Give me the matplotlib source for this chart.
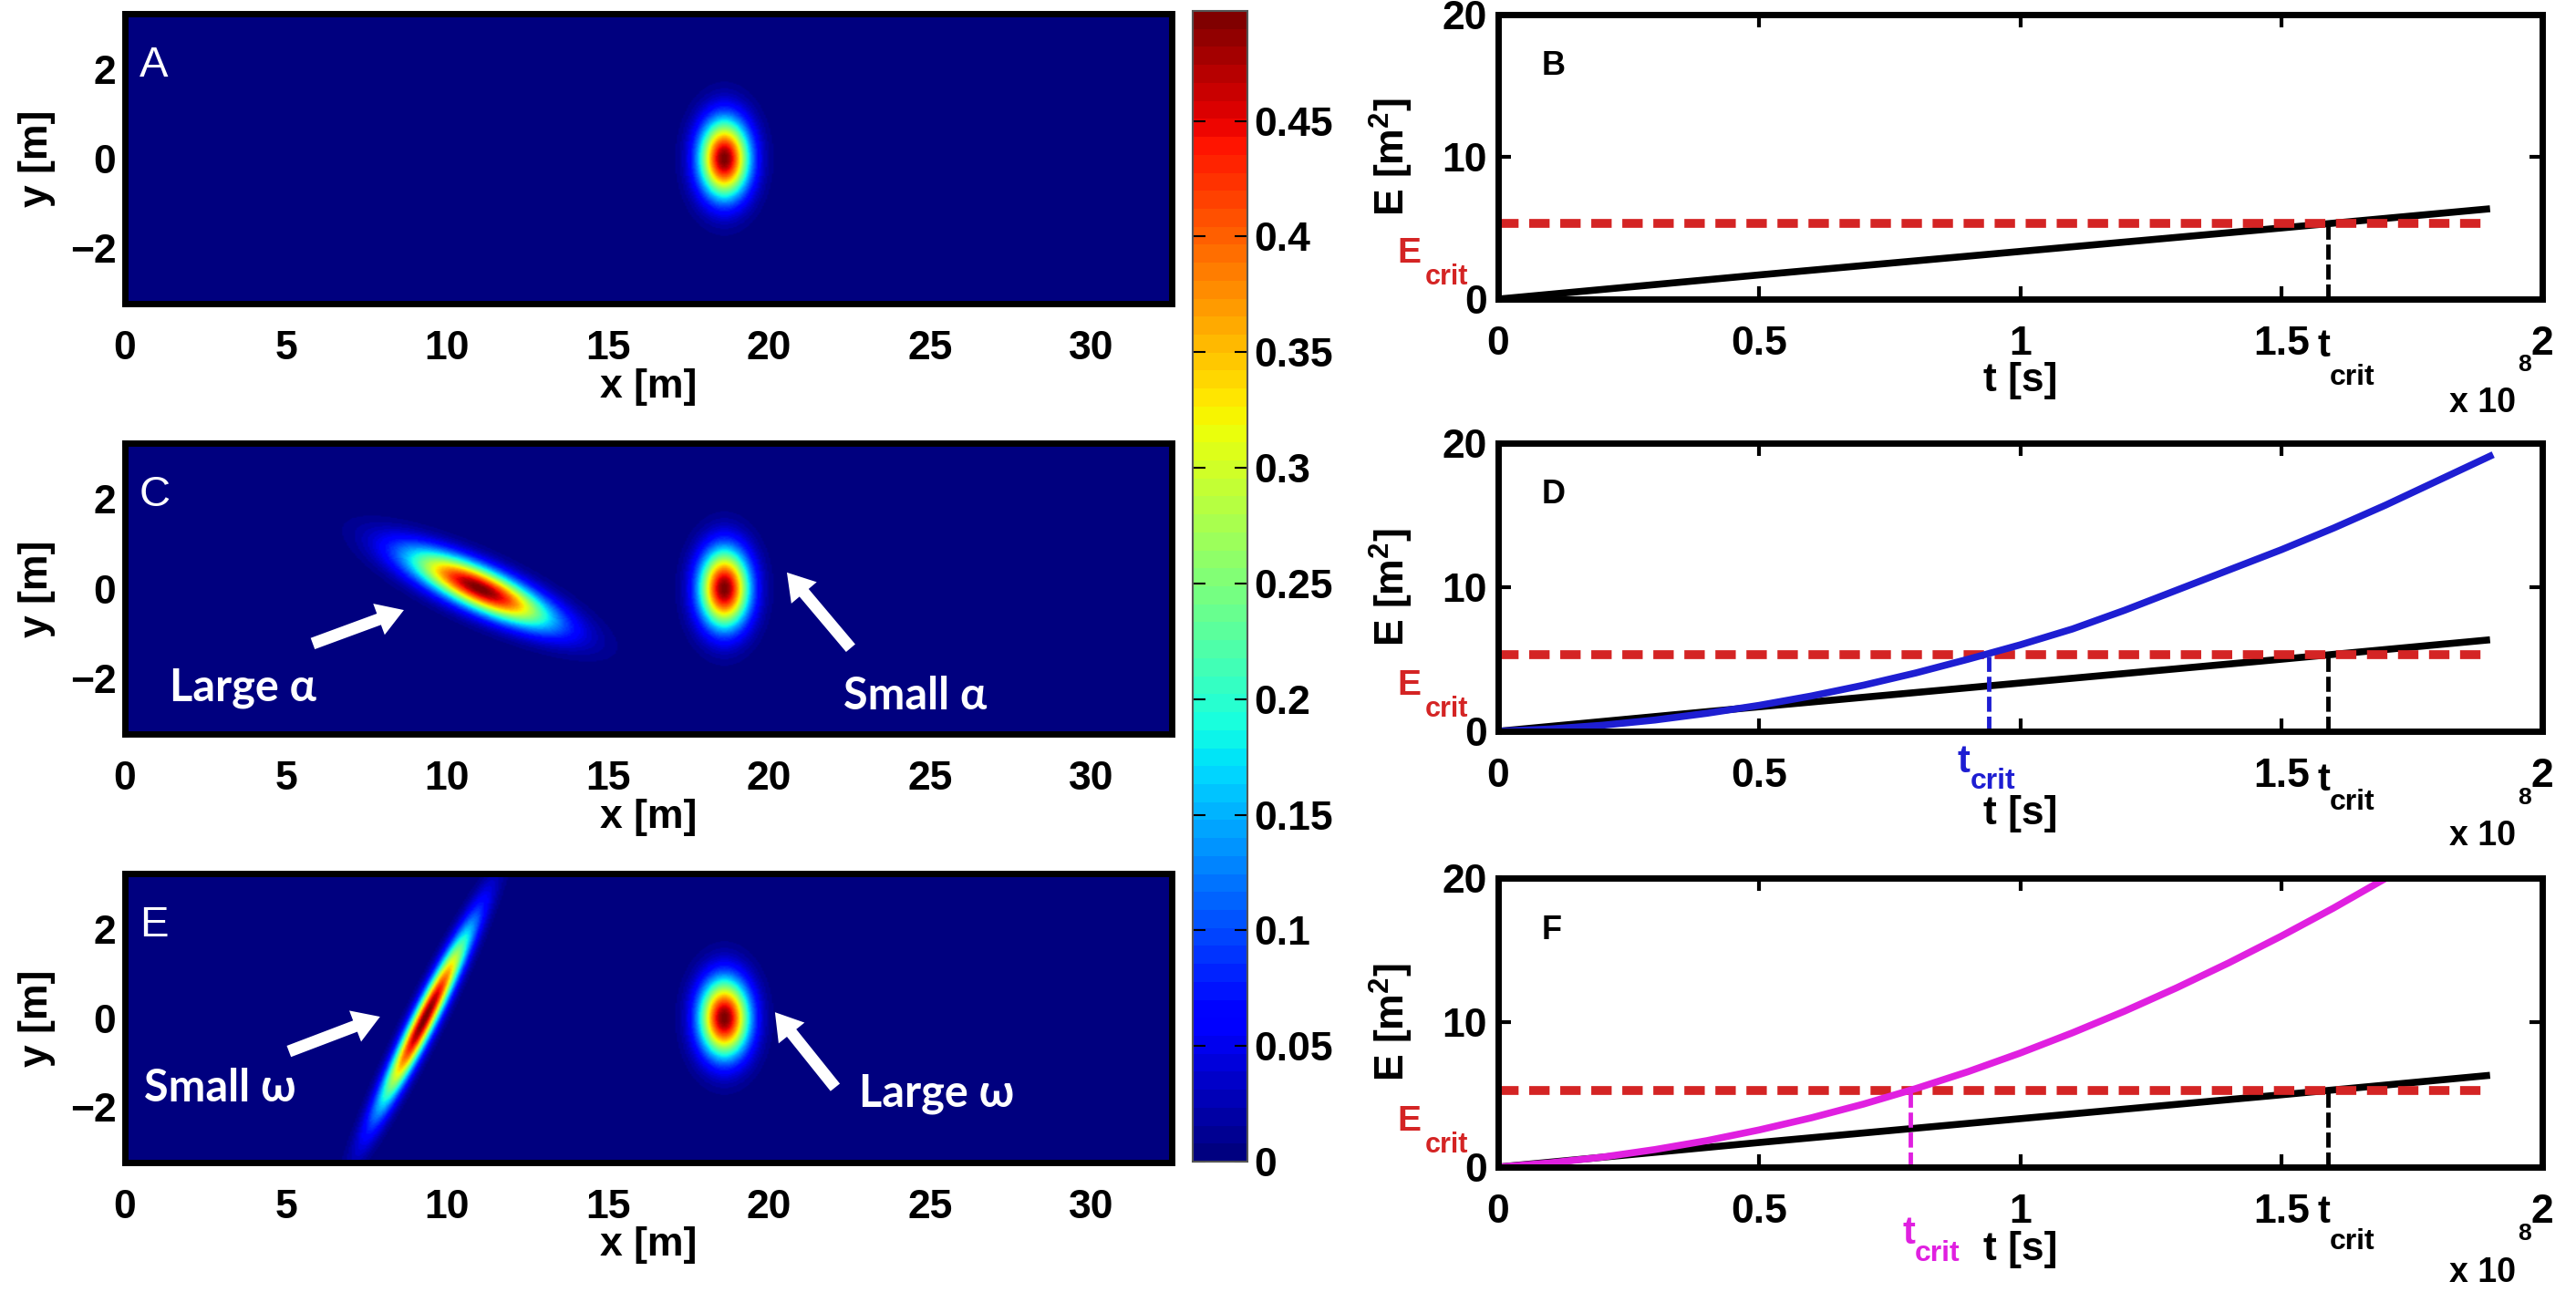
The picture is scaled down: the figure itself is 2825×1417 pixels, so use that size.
import numpy as np
import matplotlib
matplotlib.use("Agg")
import matplotlib.pyplot as plt
import matplotlib.transforms as mtransforms

plt.rcParams["font.family"] = ["Liberation Sans", "DejaVu Sans"]
plt.rcParams["font.weight"] = "bold"
plt.rcParams["axes.labelweight"] = "bold"
plt.rcParams["mathtext.fontset"] = "custom"
plt.rcParams["mathtext.rm"] = "Liberation Sans:bold"
plt.rcParams["mathtext.bf"] = "Liberation Sans:bold"
plt.rcParams["mathtext.it"] = "Liberation Sans:bold"

# ---- field panels (A, C, E) ----
x_lim = [0, 32.5]
y_lim = [-3.25, 3.25]
x_ticks = [0, 5, 10, 15, 20, 25, 30]
y_ticks = [-2, 0, 2]
peak = 0.4975
# blobs: round one at x~18.6, tilted (large alpha), steep streak (small omega)
blob_cx = [18.6, 11.0, 9.3]
blob_cy = [0.0, 0.0, 0.0]
blob_s1 = [0.53, 1.55, 1.60]
blob_s2 = [0.60, 0.33, 0.225]
blob_ang = [0.0, -17.7, 55.3]
panel_blobs = {"A": [0], "C": [0, 1], "E": [0, 2]}
cbar_ticks = [0, 0.05, 0.1, 0.15, 0.2, 0.25, 0.3, 0.35, 0.4, 0.45]
cbar_labels = ["0", "0.05", "0.1", "0.15", "0.2", "0.25", "0.3", "0.35", "0.4", "0.45"]

# annotations: (text, text x, text y, arrow tail, arrow head)
notes_C = [("Large \u03b1", 1.4, -2.5, (5.83, -1.23), (8.66, -0.48)),
           ("Small \u03b1", 22.3, -2.7, (22.53, -1.33), (20.55, 0.36))]
notes_E = [("Small \u03c9", 0.6, -1.87, (5.09, -0.75), (7.92, 0.03)),
           ("Large \u03c9", 22.8, -1.98, (22.05, -1.56), (20.18, 0.13))]

# ---- energy panels (B, D, F), t in units of 1e8 s ----
t_black = [0, 0.5, 1.0, 1.5, 1.9]
E_black = [0, 1.7, 3.35, 5.0, 6.35]
t_blue = [0, 0.1, 0.2, 0.3, 0.4, 0.5, 0.6, 0.7, 0.8, 0.9, 1.0,
          1.1, 1.2, 1.3, 1.4, 1.5, 1.6, 1.7, 1.8, 1.9]
E_blue = [0, 0.16, 0.42, 0.78, 1.25, 1.8, 2.45, 3.2, 4.05, 5.0, 6.0,
          7.1, 8.4, 9.8, 11.2, 12.6, 14.1, 15.7, 17.4, 19.1]
t_mag = [0, 0.1, 0.2, 0.3, 0.4, 0.5, 0.6, 0.7, 0.8, 0.9, 1.0,
         1.1, 1.2, 1.3, 1.4, 1.5, 1.6, 1.7]
E_mag = [0, 0.29, 0.69, 1.21, 1.83, 2.57, 3.41, 4.36, 5.43, 6.6, 7.89,
         9.29, 10.79, 12.41, 14.14, 15.98, 17.92, 19.98]
E_crit = 5.3
t_crit_black = 1.59
t_crit_blue = 0.94
t_crit_mag = 0.79
t_ticks = [0, 0.5, 1, 1.5, 2]
t_labels = {"B": ["0", "0.5", "1", "1.5", "2"],
            "D": ["0", "0.5", "", "1.5", "2"],
            "F": ["0", "0.5", "1", "1.5", "2"]}
e_ticks = [0, 10, 20]

RED = "#D42424"
BLUE = "#1E1ED2"
MAG = "#E020E0"
FS = 32

fig = plt.figure(figsize=(28.25, 14.17), dpi=100)

# grid for the fields
xg = np.linspace(x_lim[0], x_lim[1], 651)
yg = np.linspace(y_lim[0], y_lim[1], 261)
X, Y = np.meshgrid(xg, yg)


def field(idx):
    Z = np.zeros_like(X)
    for i in idx:
        a = np.deg2rad(blob_ang[i])
        dx = X - blob_cx[i]
        dy = Y - blob_cy[i]
        u = dx * np.cos(a) + dy * np.sin(a)
        v = -dx * np.sin(a) + dy * np.cos(a)
        Z = np.maximum(Z, peak * np.exp(-0.5 * (u**2 / blob_s1[i]**2 + v**2 / blob_s2[i]**2)))
    return Z


cmap = plt.get_cmap("jet", 64)
left_pos = {"A": [0.0485, 0.7650, 0.4064, 0.2244],
            "C": [0.0485, 0.4319, 0.4064, 0.2251],
            "E": [0.0485, 0.1002, 0.4064, 0.2237]}
right_pos = {"B": [0.5816, 0.7685, 0.4053, 0.2202],
             "D": [0.5816, 0.4340, 0.4053, 0.2230],
             "F": [0.5816, 0.0967, 0.4053, 0.2237]}

arrow_style = "simple,head_length=1.0,head_width=1.25,tail_width=0.45"

im = None
for name in ["A", "C", "E"]:
    ax = fig.add_axes(left_pos[name])
    im = ax.imshow(field(panel_blobs[name]), extent=[x_lim[0], x_lim[1], y_lim[0], y_lim[1]],
                   origin="lower", aspect="auto", cmap=cmap, vmin=0, vmax=peak,
                   interpolation="bilinear")
    ax.set_xlim(x_lim)
    ax.set_ylim(y_lim)
    ax.set_xticks(x_ticks)
    ax.set_yticks(y_ticks)
    ax.tick_params(length=0, labelsize=FS)
    ax.tick_params(axis="x", pad=21)
    ax.tick_params(axis="y", pad=7)
    for s in ax.spines.values():
        s.set_linewidth(5)
    ax.set_xlabel("x [m]", fontsize=FS)
    ax.set_ylabel("y [m]", fontsize=FS)
    ax.xaxis.set_label_coords(0.5, -0.222)
    ax.yaxis.set_label_coords(-0.066, 0.5)
    ax.text(0.014, 0.89, name, transform=ax.transAxes, color="white", fontsize=34,
            fontweight="normal", ha="left", va="top")
    notes = notes_C if name == "C" else notes_E if name == "E" else []
    for txt, tx, ty, tail, head in notes:
        ax.text(tx, ty, txt, color="white", fontsize=35, fontweight="bold",
                family=["Lato", "DejaVu Sans"], ha="left", va="baseline")
        ax.annotate("", xy=head, xytext=tail,
                    arrowprops=dict(arrowstyle=arrow_style, fc="white", ec="none",
                                    mutation_scale=21, shrinkA=0, shrinkB=0))

cax = fig.add_axes([0.4630, 0.1009, 0.0212, 0.8906])
cb = fig.colorbar(im, cax=cax, ticks=cbar_ticks)
cb.ax.set_yticklabels(cbar_labels)
cb.outline.set_linewidth(1.5)
cb.outline.set_edgecolor("#555555")
cax.tick_params(axis="y", direction="in", length=10, width=1.5, left=True, right=True,
                labelsize=FS, pad=5, colors="black")

curves = {"B": None, "D": (t_blue, E_blue, BLUE, t_crit_blue),
          "F": (t_mag, E_mag, MAG, t_crit_mag)}
# tcrit label offsets (axes fraction below the axis): t top, crit baseline
tlab_black = {"B": (-0.104, -0.300), "D": (-0.108, -0.272), "F": (-0.095, -0.285)}
tlab_col = {"D": (-0.045, -0.200, 0.88), "F": (-0.168, -0.326, 0.774)}

for name in ["B", "D", "F"]:
    ax = fig.add_axes(right_pos[name])
    trans = mtransforms.blended_transform_factory(ax.transData, ax.transAxes)
    trans_y = mtransforms.blended_transform_factory(ax.transAxes, ax.transData)
    ax.plot(t_black, E_black, color="black", lw=5.5, solid_capstyle="butt")
    ax.plot([0, 1.9], [E_crit, E_crit], color=RED, lw=7, dashes=(2.3, 1.2))
    ax.plot([t_crit_black, t_crit_black], [0, E_crit], color="black", lw=3.5, dashes=(3.4, 1.1))
    if curves[name] is not None:
        tc, ec, col, tcr = curves[name]
        ax.plot(tc, ec, color=col, lw=5.5)
        ax.plot([tcr, tcr], [0, E_crit], color=col, lw=3.5, dashes=(3.4, 1.1))
        ty, cy, tx = tlab_col[name]
        ax.text(tx, ty, "t", transform=trans, color=col, fontsize=30, ha="left", va="top")
        ax.text(tx + 0.024, cy, "crit", transform=trans, color=col, fontsize=23,
                ha="left", va="baseline")
    ty, cy = tlab_black[name]
    ax.text(1.570, ty, "t", transform=trans, color="black", fontsize=30, ha="left", va="top")
    ax.text(1.593, cy, "crit", transform=trans, color="black", fontsize=23,
            ha="left", va="baseline")
    ax.set_xlim(0, 2)
    ax.set_ylim(0, 20)
    ax.set_xticks(t_ticks)
    ax.set_xticklabels(t_labels[name])
    ax.set_yticks(e_ticks)
    ax.tick_params(direction="in", length=10, width=3, top=True, right=True, labelsize=FS)
    ax.tick_params(axis="x", pad=21)
    ax.tick_params(axis="y", pad=9)
    for s in ax.spines.values():
        s.set_linewidth(5)
    ax.set_xlabel("t [s]", fontsize=FS)
    ax.set_ylabel("E [m$^{2}$]", fontsize=FS)
    ax.xaxis.set_label_coords(0.5, -0.222)
    ax.yaxis.set_label_coords(-0.0795, 0.5)
    ax.text(0.042, 0.82, name, transform=ax.transAxes, fontsize=26, ha="left", va="center")
    ax.text(-0.097, 2.55, "E", transform=trans_y, color=RED, fontsize=28, ha="left",
            va="baseline")
    ax.text(-0.070, 1.0, "crit", transform=trans_y, color=RED, fontsize=22, ha="left",
            va="baseline")
    ax.text(0.975, -0.365, "x 10", transform=ax.transAxes, fontsize=27, ha="right",
            va="center")
    ax.text(0.983, -0.23, "8", transform=ax.transAxes, fontsize=19, ha="center",
            va="center")

fig.savefig("out.png", dpi=100)
